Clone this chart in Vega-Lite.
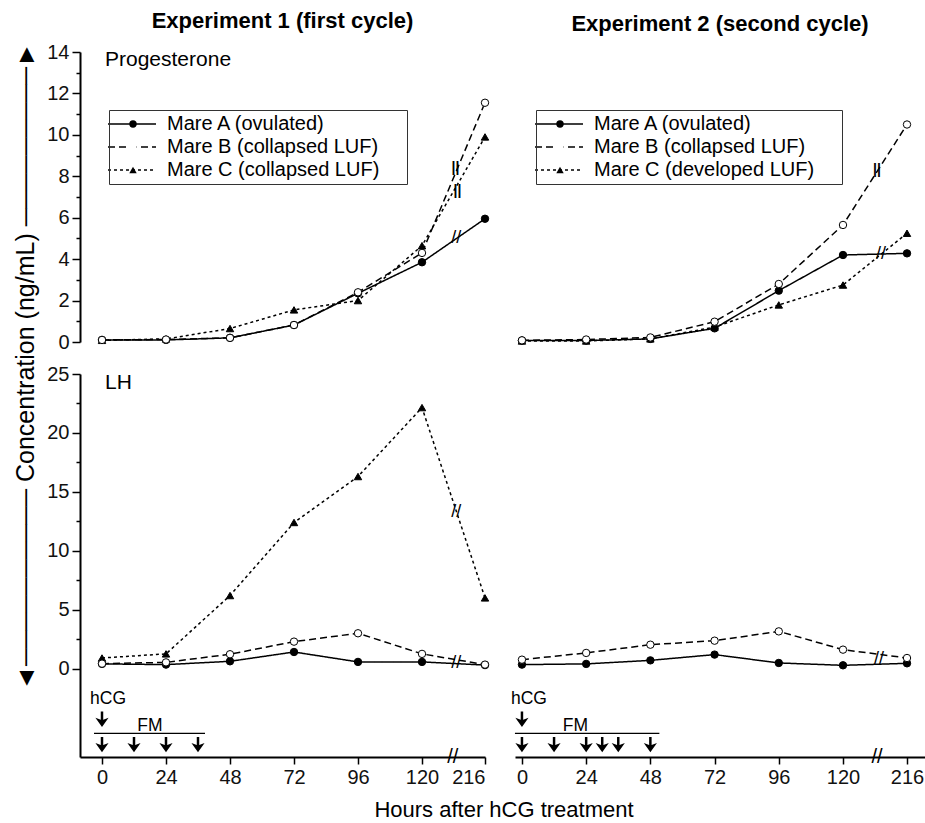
{
  "$schema": "https://vega.github.io/schema/vega-lite/v6.json",
  "background": "white",
  "padding": {"left": 12, "top": 10, "right": 2, "bottom": 6},
  "datasets": {
    "prog1": [
      {"mare": "Mare C (collapsed LUF)", "hours": 0, "conc": 0.08},
      {"mare": "Mare C (collapsed LUF)", "hours": 24, "conc": 0.15},
      {"mare": "Mare C (collapsed LUF)", "hours": 48, "conc": 0.65},
      {"mare": "Mare C (collapsed LUF)", "hours": 72, "conc": 1.55},
      {"mare": "Mare C (collapsed LUF)", "hours": 96, "conc": 2.0},
      {"mare": "Mare C (collapsed LUF)", "hours": 120, "conc": 4.65},
      {"mare": "Mare C (collapsed LUF)", "hours": 216, "conc": 9.9},
      {"mare": "Mare A (ovulated)", "hours": 0, "conc": 0.1},
      {"mare": "Mare A (ovulated)", "hours": 24, "conc": 0.1},
      {"mare": "Mare A (ovulated)", "hours": 48, "conc": 0.2},
      {"mare": "Mare A (ovulated)", "hours": 72, "conc": 0.82},
      {"mare": "Mare A (ovulated)", "hours": 96, "conc": 2.35},
      {"mare": "Mare A (ovulated)", "hours": 120, "conc": 3.85},
      {"mare": "Mare A (ovulated)", "hours": 216, "conc": 5.95},
      {"mare": "Mare B (collapsed LUF)", "hours": 0, "conc": 0.1},
      {"mare": "Mare B (collapsed LUF)", "hours": 24, "conc": 0.12},
      {"mare": "Mare B (collapsed LUF)", "hours": 48, "conc": 0.2},
      {"mare": "Mare B (collapsed LUF)", "hours": 72, "conc": 0.82},
      {"mare": "Mare B (collapsed LUF)", "hours": 96, "conc": 2.4},
      {"mare": "Mare B (collapsed LUF)", "hours": 120, "conc": 4.3},
      {"mare": "Mare B (collapsed LUF)", "hours": 216, "conc": 11.55}
    ],
    "prog2": [
      {"mare": "Mare C (developed LUF)", "hours": 0, "conc": 0.05},
      {"mare": "Mare C (developed LUF)", "hours": 24, "conc": 0.05},
      {"mare": "Mare C (developed LUF)", "hours": 48, "conc": 0.15},
      {"mare": "Mare C (developed LUF)", "hours": 72, "conc": 0.72},
      {"mare": "Mare C (developed LUF)", "hours": 96, "conc": 1.79},
      {"mare": "Mare C (developed LUF)", "hours": 120, "conc": 2.75},
      {"mare": "Mare C (developed LUF)", "hours": 216, "conc": 5.25},
      {"mare": "Mare A (ovulated)", "hours": 0, "conc": 0.07},
      {"mare": "Mare A (ovulated)", "hours": 24, "conc": 0.07},
      {"mare": "Mare A (ovulated)", "hours": 48, "conc": 0.15},
      {"mare": "Mare A (ovulated)", "hours": 72, "conc": 0.66},
      {"mare": "Mare A (ovulated)", "hours": 96, "conc": 2.48},
      {"mare": "Mare A (ovulated)", "hours": 120, "conc": 4.2},
      {"mare": "Mare A (ovulated)", "hours": 216, "conc": 4.28},
      {"mare": "Mare B (collapsed LUF)", "hours": 0, "conc": 0.08},
      {"mare": "Mare B (collapsed LUF)", "hours": 24, "conc": 0.12},
      {"mare": "Mare B (collapsed LUF)", "hours": 48, "conc": 0.22},
      {"mare": "Mare B (collapsed LUF)", "hours": 72, "conc": 0.98},
      {"mare": "Mare B (collapsed LUF)", "hours": 96, "conc": 2.8},
      {"mare": "Mare B (collapsed LUF)", "hours": 120, "conc": 5.65},
      {"mare": "Mare B (collapsed LUF)", "hours": 216, "conc": 10.5}
    ],
    "lh1": [
      {"mare": "Mare C (collapsed LUF)", "hours": 0, "conc": 0.9},
      {"mare": "Mare C (collapsed LUF)", "hours": 24, "conc": 1.25},
      {"mare": "Mare C (collapsed LUF)", "hours": 48, "conc": 6.2},
      {"mare": "Mare C (collapsed LUF)", "hours": 72, "conc": 12.4},
      {"mare": "Mare C (collapsed LUF)", "hours": 96, "conc": 16.3},
      {"mare": "Mare C (collapsed LUF)", "hours": 120, "conc": 22.15},
      {"mare": "Mare C (collapsed LUF)", "hours": 216, "conc": 6.0},
      {"mare": "Mare A (ovulated)", "hours": 0, "conc": 0.4},
      {"mare": "Mare A (ovulated)", "hours": 24, "conc": 0.34},
      {"mare": "Mare A (ovulated)", "hours": 48, "conc": 0.62},
      {"mare": "Mare A (ovulated)", "hours": 72, "conc": 1.41},
      {"mare": "Mare A (ovulated)", "hours": 96, "conc": 0.57},
      {"mare": "Mare A (ovulated)", "hours": 120, "conc": 0.57},
      {"mare": "Mare A (ovulated)", "hours": 216, "conc": 0.3},
      {"mare": "Mare B (collapsed LUF)", "hours": 0, "conc": 0.42},
      {"mare": "Mare B (collapsed LUF)", "hours": 24, "conc": 0.53},
      {"mare": "Mare B (collapsed LUF)", "hours": 48, "conc": 1.22},
      {"mare": "Mare B (collapsed LUF)", "hours": 72, "conc": 2.29},
      {"mare": "Mare B (collapsed LUF)", "hours": 96, "conc": 3.0},
      {"mare": "Mare B (collapsed LUF)", "hours": 120, "conc": 1.25},
      {"mare": "Mare B (collapsed LUF)", "hours": 216, "conc": 0.34}
    ],
    "lh2": [
      {"mare": "Mare A (ovulated)", "hours": 0, "conc": 0.34},
      {"mare": "Mare A (ovulated)", "hours": 24, "conc": 0.4},
      {"mare": "Mare A (ovulated)", "hours": 48, "conc": 0.7},
      {"mare": "Mare A (ovulated)", "hours": 72, "conc": 1.19},
      {"mare": "Mare A (ovulated)", "hours": 96, "conc": 0.48},
      {"mare": "Mare A (ovulated)", "hours": 120, "conc": 0.28},
      {"mare": "Mare A (ovulated)", "hours": 216, "conc": 0.45},
      {"mare": "Mare B (collapsed LUF)", "hours": 0, "conc": 0.76},
      {"mare": "Mare B (collapsed LUF)", "hours": 24, "conc": 1.33},
      {"mare": "Mare B (collapsed LUF)", "hours": 48, "conc": 2.03},
      {"mare": "Mare B (collapsed LUF)", "hours": 72, "conc": 2.37},
      {"mare": "Mare B (collapsed LUF)", "hours": 96, "conc": 3.16},
      {"mare": "Mare B (collapsed LUF)", "hours": 120, "conc": 1.61},
      {"mare": "Mare B (collapsed LUF)", "hours": 216, "conc": 0.9}
    ],
    "inj1": [
      {"type": "hCG", "hours": 0},
      {"type": "FM", "hours": 0},
      {"type": "FM", "hours": 12},
      {"type": "FM", "hours": 24},
      {"type": "FM", "hours": 36}
    ],
    "inj2": [
      {"type": "hCG", "hours": 0},
      {"type": "FM", "hours": 0},
      {"type": "FM", "hours": 12},
      {"type": "FM", "hours": 24},
      {"type": "FM", "hours": 30},
      {"type": "FM", "hours": 36},
      {"type": "FM", "hours": 48}
    ]
  },
  "title": {"text": "Hours after hCG treatment", "orient": "bottom", "anchor": "middle", "fontSize": 22, "fontWeight": "normal", "offset": 13, "dx": 35, "color": "black"},
  "columns": 2,
  "bounds": "flush",
  "spacing": {"row": 32, "column": 30},
  "concat": [
    {
      "width": 405, "height": 290,
      "title": {"text": "Experiment 1 (first cycle)", "anchor": "middle", "fontSize": 22, "fontWeight": "bold", "offset": 8.5},
      "resolve": {"axis": {"y": "independent", "x": "independent"}},
      "layer": [
        {"data": {"name": "prog1"}, "mark": {"type": "line", "stroke": "black", "strokeWidth": 1.5},
          "encoding": {
            "x": {"field": "hours", "type": "quantitative", "scale": {"domain": [-8.25, 120, 216], "range": [0, 342, 405], "nice": false, "zero": false}, "axis": null},
            "y": {"field": "conc", "type": "quantitative", "scale": {"domain": [0, 14], "nice": false, "zero": false},
              "axis": {"orient": "left", "values": [0,2,4,6,8,10,12,14], "tickSize": 8,
                "title": "◄────────── Concentration (ng/mL) ─────────►",
                "titleFontSize": 25, "titleFontWeight": "normal", "titleX": -55, "titleY": 314, "titleAngle": 270,
                "titleAlign": "center", "titleBaseline": "middle", "titleLimit": 900, "titleColor": "black"}},
            "strokeDash": {"field": "mare", "type": "nominal", "scale": {"range": [[1,0],[7,4],[3,3]]},
            "legend": {"title": null, "orient": "none", "legendX": 29, "legendY": 58, "padding": 4, "symbolType": "M-3,0L3,0", "symbolSize": 256, "symbolStrokeWidth": 1.5, "symbolStrokeColor": "black", "symbolOffset": 9, "labelOffset": 25, "labelFontSize": 20, "labelColor": "black", "rowPadding": 3, "labelLimit": 400}}}},
        {"data": {"name": "prog1"}, "mark": {"type": "point", "filled": true, "stroke": "black", "strokeWidth": 1, "size": 55, "opacity": 1},
          "encoding": {
            "x": {"field": "hours", "type": "quantitative", "axis": null},
            "y": {"field": "conc", "type": "quantitative", "axis": null},
            "shape": {"field": "mare", "type": "nominal", "scale": {"domain": ["Mare A (ovulated)", "Mare B (collapsed LUF)", "Mare C (collapsed LUF)"], "range": ["circle", "circle", "triangle-up"]},
              "legend": {"title": null, "orient": "none", "legendX": 29, "legendY": 58, "padding": 4, "strokeColor": "#333", "symbolSize": 55, "symbolStrokeColor": "black", "symbolStrokeWidth": 1, "symbolOffset": 10, "labelOffset": 47, "labelFontSize": 20, "labelOpacity": 0, "rowPadding": 3, "labelLimit": 400}},
            "fill": {"field": "mare", "type": "nominal", "scale": {"domain": ["Mare A (ovulated)", "Mare B (collapsed LUF)", "Mare C (collapsed LUF)"], "range": ["black", "white", "black"]},
              "legend": {"title": null, "orient": "none", "legendX": 29, "legendY": 58, "padding": 4, "strokeColor": "#333", "symbolSize": 55, "symbolStrokeColor": "black", "symbolStrokeWidth": 1, "symbolOffset": 10, "labelOffset": 47, "labelFontSize": 20, "labelOpacity": 0, "rowPadding": 3, "labelLimit": 400}}
          }},
        {"data": {"values": [{}]}, "mark": {"type": "text", "text": "Progesterone", "align": "left", "baseline": "middle", "fontSize": 21, "dx": 3},
          "encoding": {"x": {"datum": 0, "axis": null}, "y": {"datum": 13.6,
            "axis": {"orient": "left", "values": [1,3,5,7,9,11,13], "labels": false, "domain": false, "tickSize": 4, "title": null, "grid": false}}}},
        {"data": {"values": [{}]}, "mark": {"type": "text", "text": "//", "align": "center", "baseline": "middle", "fontSize": 18, "fill": "black"},
          "encoding": {"x": {"datum": 172, "axis": null}, "y": {"datum": 5.0, "axis": null}}},
        {"data": {"values": [{}]}, "mark": {"type": "text", "text": "||", "align": "center", "baseline": "middle", "fontSize": 14, "fontWeight": "bold", "fill": "black"},
          "encoding": {"x": {"datum": 171, "axis": null}, "y": {"datum": 8.4, "axis": null}}},
        {"data": {"values": [{}]}, "mark": {"type": "text", "text": "||", "align": "center", "baseline": "middle", "fontSize": 14, "fontWeight": "bold", "fill": "black"},
          "encoding": {"x": {"datum": 174, "axis": null}, "y": {"datum": 7.3, "axis": null}}}
      ]
    },
    {
      "width": 410, "height": 290,
      "title": {"text": "Experiment 2 (second cycle)", "anchor": "middle", "fontSize": 22, "fontWeight": "bold", "offset": 16.5},
      "layer": [
        {"data": {"name": "prog2"}, "mark": {"type": "line", "stroke": "black", "strokeWidth": 1.5},
          "encoding": {
            "x": {"field": "hours", "type": "quantitative", "scale": {"domain": [-2.6, 120, 216, 222], "range": [0, 328, 392, 410], "nice": false, "zero": false}, "axis": null},
            "y": {"field": "conc", "type": "quantitative", "scale": {"domain": [0, 14], "nice": false, "zero": false}, "axis": null},
            "strokeDash": {"field": "mare", "type": "nominal", "scale": {"range": [[1,0],[7,4],[3,3]]},
            "legend": {"title": null, "orient": "none", "legendX": 21, "legendY": 58, "padding": 4, "symbolType": "M-3,0L3,0", "symbolSize": 256, "symbolStrokeWidth": 1.5, "symbolStrokeColor": "black", "symbolOffset": 9, "labelOffset": 25, "labelFontSize": 20, "labelColor": "black", "rowPadding": 3, "labelLimit": 400}}}},
        {"data": {"name": "prog2"}, "mark": {"type": "point", "filled": true, "stroke": "black", "strokeWidth": 1, "size": 55, "opacity": 1},
          "encoding": {
            "x": {"field": "hours", "type": "quantitative", "axis": null},
            "y": {"field": "conc", "type": "quantitative", "axis": null},
            "shape": {"field": "mare", "type": "nominal", "scale": {"domain": ["Mare A (ovulated)", "Mare B (collapsed LUF)", "Mare C (developed LUF)"], "range": ["circle", "circle", "triangle-up"]},
              "legend": {"title": null, "orient": "none", "legendX": 21, "legendY": 58, "padding": 4, "strokeColor": "#333", "symbolSize": 55, "symbolStrokeColor": "black", "symbolStrokeWidth": 1, "symbolOffset": 10, "labelOffset": 47, "labelFontSize": 20, "labelOpacity": 0, "rowPadding": 3, "labelLimit": 400}},
            "fill": {"field": "mare", "type": "nominal", "scale": {"domain": ["Mare A (ovulated)", "Mare B (collapsed LUF)", "Mare C (developed LUF)"], "range": ["black", "white", "black"]},
              "legend": {"title": null, "orient": "none", "legendX": 21, "legendY": 58, "padding": 4, "strokeColor": "#333", "symbolSize": 55, "symbolStrokeColor": "black", "symbolStrokeWidth": 1, "symbolOffset": 10, "labelOffset": 47, "labelFontSize": 20, "labelOpacity": 0, "rowPadding": 3, "labelLimit": 400}}
          }},
        {"data": {"values": [{}]}, "mark": {"type": "text", "text": "||", "align": "center", "baseline": "middle", "fontSize": 14, "fontWeight": "bold", "fill": "black"},
          "encoding": {"x": {"datum": 171, "axis": null}, "y": {"datum": 8.3, "axis": null}}},
        {"data": {"values": [{}]}, "mark": {"type": "text", "text": "//", "align": "center", "baseline": "middle", "fontSize": 18, "fill": "black"},
          "encoding": {"x": {"datum": 177, "axis": null}, "y": {"datum": 4.25, "axis": null}}}
      ]
    },
    {
      "width": 405, "height": 383,
      "resolve": {"axis": {"y": "independent", "x": "independent"}},
      "layer": [
        {"data": {"name": "lh1"}, "mark": {"type": "line", "stroke": "black", "strokeWidth": 1.5},
          "encoding": {
            "x": {"field": "hours", "type": "quantitative", "scale": {"domain": [-8.25, 120, 216], "range": [0, 342, 405], "nice": false, "zero": false},
              "axis": {"orient": "bottom", "values": [0, 24, 48, 72, 96, 120, 216], "title": null, "tickSize": 7, "labelPadding": 3}},
            "y": {"field": "conc", "type": "quantitative", "scale": {"domain": [-7.5, 25], "nice": false, "zero": false},
              "axis": {"orient": "left", "values": [0, 5, 10, 15, 20, 25], "tickSize": 8, "title": null}},
            "strokeDash": {"field": "mare", "type": "nominal", "scale": {"range": [[1,0],[7,4],[3,3]]}, "legend": null}}},
        {"data": {"name": "lh1"}, "mark": {"type": "point", "filled": true, "stroke": "black", "strokeWidth": 1, "size": 55, "opacity": 1},
          "encoding": {
            "x": {"field": "hours", "type": "quantitative", "axis": null},
            "y": {"field": "conc", "type": "quantitative", "axis": null},
            "shape": {"field": "mare", "type": "nominal", "scale": {"domain": ["Mare A (ovulated)", "Mare B (collapsed LUF)", "Mare C (collapsed LUF)"], "range": ["circle", "circle", "triangle-up"]}, "legend": null},
            "fill": {"field": "mare", "type": "nominal", "scale": {"domain": ["Mare A (ovulated)", "Mare B (collapsed LUF)", "Mare C (collapsed LUF)"], "range": ["black", "white", "black"]}, "legend": null}
          }},
        {"data": {"values": [{}]}, "mark": {"type": "text", "text": "LH", "align": "left", "baseline": "middle", "fontSize": 21, "dx": 3},
          "encoding": {"x": {"datum": 0, "axis": null}, "y": {"datum": 24.2,
            "axis": {"orient": "left", "values": [2.5, 7.5, 12.5, 17.5, 22.5], "labels": false, "domain": false, "tickSize": 4, "title": null, "grid": false}}}},
        {"data": {"values": [{}]}, "mark": {"type": "text", "text": "//", "align": "center", "baseline": "middle", "fontSize": 18, "fill": "black"},
          "encoding": {"x": {"datum": 172, "axis": null}, "y": {"datum": 13.3, "axis": null}}},
        {"data": {"values": [{}]}, "mark": {"type": "text", "text": "//", "align": "center", "baseline": "middle", "fontSize": 18, "fill": "black"},
          "encoding": {"x": {"datum": 172, "axis": null}, "y": {"datum": 0.5, "axis": null}}},
        {"data": {"values": [{}]}, "mark": {"type": "text", "text": "//", "align": "center", "baseline": "middle", "fontSize": 20, "fill": "black"},
          "encoding": {"x": {"datum": 167, "axis": null}, "y": {"datum": -7.5, "axis": null}}},
        {"data": {"name": "inj1"}, "transform": [{"filter": "datum.type === 'FM'"}],
          "mark": {"type": "point", "shape": "M-0.16,-1L0.16,-1L0.16,0.05L0.85,-0.2L0,1L-0.85,-0.2L-0.16,0.05Z", "filled": true, "fill": "black", "strokeWidth": 0, "size": 240, "opacity": 1},
          "encoding": {"x": {"field": "hours", "type": "quantitative", "axis": null}, "y": {"datum": -6.45, "axis": null}}},
        {"data": {"name": "inj1"}, "transform": [{"filter": "datum.type === 'hCG'"}],
          "mark": {"type": "point", "shape": "M-0.16,-1L0.16,-1L0.16,0.05L0.85,-0.2L0,1L-0.85,-0.2L-0.16,0.05Z", "filled": true, "fill": "black", "strokeWidth": 0, "size": 240, "opacity": 1},
          "encoding": {"x": {"field": "hours", "type": "quantitative", "axis": null}, "y": {"datum": -4.3, "axis": null}}},
        {"data": {"name": "inj1"}, "transform": [{"filter": "datum.type === 'hCG'"}],
          "mark": {"type": "text", "align": "center", "baseline": "middle", "fontSize": 17.5, "dx": 6},
          "encoding": {"x": {"field": "hours", "type": "quantitative", "axis": null}, "y": {"datum": -2.6, "axis": null}, "text": {"field": "type"}}},
        {"data": {"name": "inj1"}, "transform": [{"filter": "datum.type === 'FM'"}],
          "mark": {"type": "rule", "stroke": "black", "strokeWidth": 1.3, "xOffset": -8, "x2Offset": 7},
          "encoding": {"x": {"aggregate": "min", "field": "hours", "type": "quantitative", "axis": null}, "x2": {"aggregate": "max", "field": "hours"}, "y": {"datum": -5.5, "axis": null}}},
        {"data": {"values": [{}]}, "mark": {"type": "text", "text": "FM", "align": "center", "baseline": "middle", "fontSize": 17.5},
          "encoding": {"x": {"datum": 18, "axis": null}, "y": {"datum": -4.85, "axis": null}}}
      ]
    },
    {
      "width": 410, "height": 383,
      "resolve": {"axis": {"x": "independent"}},
      "layer": [
        {"data": {"name": "lh2"}, "mark": {"type": "line", "stroke": "black", "strokeWidth": 1.5},
          "encoding": {
            "x": {"field": "hours", "type": "quantitative", "scale": {"domain": [-2.6, 120, 216, 222], "range": [0, 328, 392, 410], "nice": false, "zero": false},
              "axis": {"orient": "bottom", "values": [0, 24, 48, 72, 96, 120, 216], "title": null, "tickSize": 7, "labelPadding": 3}},
            "y": {"field": "conc", "type": "quantitative", "scale": {"domain": [-7.5, 25], "nice": false, "zero": false}, "axis": null},
            "strokeDash": {"field": "mare", "type": "nominal", "scale": {"range": [[1,0],[7,4],[3,3]]}, "legend": null}}},
        {"data": {"name": "lh2"}, "mark": {"type": "point", "filled": true, "stroke": "black", "strokeWidth": 1, "size": 55, "opacity": 1},
          "encoding": {
            "x": {"field": "hours", "type": "quantitative", "axis": null},
            "y": {"field": "conc", "type": "quantitative", "axis": null},
            "shape": {"field": "mare", "type": "nominal", "scale": {"domain": ["Mare A (ovulated)", "Mare B (collapsed LUF)", "Mare C (developed LUF)"], "range": ["circle", "circle", "triangle-up"]}, "legend": null},
            "fill": {"field": "mare", "type": "nominal", "scale": {"domain": ["Mare A (ovulated)", "Mare B (collapsed LUF)", "Mare C (developed LUF)"], "range": ["black", "white", "black"]}, "legend": null}
          }},
        {"data": {"values": [{}]}, "mark": {"type": "text", "text": "//", "align": "center", "baseline": "middle", "fontSize": 18, "fill": "black"},
          "encoding": {"x": {"datum": 174, "axis": null}, "y": {"datum": 0.85, "axis": null}}},
        {"data": {"values": [{}]}, "mark": {"type": "text", "text": "//", "align": "center", "baseline": "middle", "fontSize": 20, "fill": "black"},
          "encoding": {"x": {"datum": 171, "axis": null}, "y": {"datum": -7.5, "axis": null}}},
        {"data": {"name": "inj2"}, "transform": [{"filter": "datum.type === 'FM'"}],
          "mark": {"type": "point", "shape": "M-0.16,-1L0.16,-1L0.16,0.05L0.85,-0.2L0,1L-0.85,-0.2L-0.16,0.05Z", "filled": true, "fill": "black", "strokeWidth": 0, "size": 240, "opacity": 1},
          "encoding": {"x": {"field": "hours", "type": "quantitative", "axis": null}, "y": {"datum": -6.45, "axis": null}}},
        {"data": {"name": "inj2"}, "transform": [{"filter": "datum.type === 'hCG'"}],
          "mark": {"type": "point", "shape": "M-0.16,-1L0.16,-1L0.16,0.05L0.85,-0.2L0,1L-0.85,-0.2L-0.16,0.05Z", "filled": true, "fill": "black", "strokeWidth": 0, "size": 240, "opacity": 1},
          "encoding": {"x": {"field": "hours", "type": "quantitative", "axis": null}, "y": {"datum": -4.3, "axis": null}}},
        {"data": {"name": "inj2"}, "transform": [{"filter": "datum.type === 'hCG'"}],
          "mark": {"type": "text", "align": "center", "baseline": "middle", "fontSize": 17.5, "dx": 7},
          "encoding": {"x": {"field": "hours", "type": "quantitative", "axis": null}, "y": {"datum": -2.6, "axis": null}, "text": {"field": "type"}}},
        {"data": {"name": "inj2"}, "transform": [{"filter": "datum.type === 'FM'"}],
          "mark": {"type": "rule", "stroke": "black", "strokeWidth": 1.3, "xOffset": -7, "x2Offset": 9},
          "encoding": {"x": {"aggregate": "min", "field": "hours", "type": "quantitative", "axis": null}, "x2": {"aggregate": "max", "field": "hours"}, "y": {"datum": -5.5, "axis": null}}},
        {"data": {"values": [{}]}, "mark": {"type": "text", "text": "FM", "align": "center", "baseline": "middle", "fontSize": 17.5},
          "encoding": {"x": {"datum": 20, "axis": null}, "y": {"datum": -4.85, "axis": null}}}
      ]
    }
  ],
  "resolve": {
    "scale": {"x": "independent", "y": "independent", "strokeDash": "independent", "shape": "independent", "fill": "independent"},
    "legend": {"strokeDash": "independent", "shape": "independent", "fill": "independent"}
  },
  "config": {
    "font": "Liberation Sans",
    "view": {"stroke": null},
    "axis": {"domainColor": "black", "domainWidth": 2, "tickColor": "black", "tickWidth": 1.5, "labelColor": "#111", "labelFontSize": 20, "labelFont": "Liberation Sans", "grid": false, "labelPadding": 3},
    "legend": {"labelFont": "Liberation Sans"},
    "text": {"font": "Liberation Sans", "color": "black"},
    "title": {"font": "Liberation Sans", "color": "black"}
  }
}
